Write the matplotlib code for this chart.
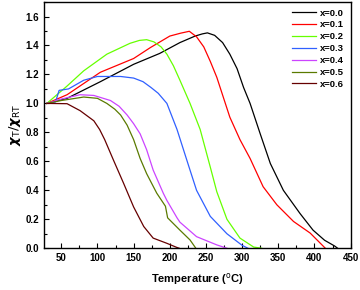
import numpy as np
import matplotlib
matplotlib.use('Agg')
import matplotlib.pyplot as plt
from matplotlib.ticker import MultipleLocator

# Temperatura (°C) y chi_T/chi_RT
t0 = [30, 58, 104, 150, 186, 214, 235, 245, 252, 262, 273, 283, 293, 302, 311, 325, 339, 357, 380, 398, 414, 428, 432]
c0 = [1.0, 1.035, 1.15, 1.27, 1.345, 1.42, 1.465, 1.48, 1.487, 1.47, 1.42, 1.34, 1.24, 1.11, 1.0, 0.79, 0.585, 0.40, 0.24, 0.125, 0.055, 0.015, 0.0]

t1 = [30, 58, 104, 150, 173, 200, 215, 227, 237, 247, 256, 265, 283, 297, 311, 329, 348, 371, 394, 410, 415]
c1 = [1.0, 1.06, 1.215, 1.31, 1.385, 1.465, 1.485, 1.498, 1.46, 1.39, 1.29, 1.18, 0.905, 0.75, 0.62, 0.425, 0.30, 0.185, 0.105, 0.025, 0.0]

t2 = [30, 58, 81, 113, 145, 158, 168, 178, 188, 196, 205, 214, 228, 242, 256, 265, 279, 297, 316, 327]
c2 = [1.0, 1.12, 1.225, 1.34, 1.415, 1.435, 1.44, 1.425, 1.39, 1.34, 1.26, 1.16, 1.0, 0.82, 0.56, 0.39, 0.2, 0.07, 0.008, 0.0]

t3 = [30, 42, 47, 60, 81, 100, 132, 150, 163, 174, 184, 196, 210, 226, 237, 256, 279, 300, 308]
c3 = [1.0, 1.01, 1.09, 1.10, 1.16, 1.186, 1.186, 1.175, 1.15, 1.11, 1.07, 1.0, 0.82, 0.57, 0.40, 0.22, 0.10, 0.02, 0.0]

t4 = [30, 50, 76, 95, 118, 130, 141, 150, 159, 168, 177, 191, 196, 210, 214, 237, 265, 279]
c4 = [1.0, 1.03, 1.06, 1.055, 1.02, 0.98, 0.92, 0.86, 0.79, 0.68, 0.54, 0.38, 0.33, 0.21, 0.18, 0.08, 0.023, 0.0]

t5 = [30, 50, 81, 100, 113, 124, 132, 141, 150, 159, 168, 182, 194, 197, 214, 228, 236]
c5 = [1.0, 1.02, 1.044, 1.035, 1.0, 0.96, 0.92, 0.85, 0.75, 0.62, 0.515, 0.38, 0.29, 0.21, 0.125, 0.057, 0.0]

t6 = [30, 58, 76, 95, 103, 110, 122, 136, 150, 164, 177, 196, 209, 213]
c6 = [1.0, 0.998, 0.95, 0.88, 0.82, 0.75, 0.61, 0.45, 0.285, 0.15, 0.07, 0.034, 0.007, 0.0]

etiquetas = ['x=0.0', 'x=0.1', 'x=0.2', 'x=0.3', 'x=0.4', 'x=0.5', 'x=0.6']
colores = ['#000000', '#FF0000', '#66FF00', '#3060FF', '#CC44FF', '#5A7A00', '#660000']

fig = plt.figure(figsize=(3.6, 2.9), dpi=100)
ax = fig.add_axes([0.122, 0.144, 0.852, 0.849])

series = [(t0, c0), (t1, c1), (t2, c2), (t3, c3), (t4, c4), (t5, c5), (t6, c6)]
for (t, c), lab, col in zip(series, etiquetas, colores):
    ax.plot(t, c, color=col, lw=0.9, label=lab)

ax.set_xlim(26, 450)
ax.set_ylim(0, 1.7)
ax.xaxis.set_major_locator(MultipleLocator(50))
ax.xaxis.set_minor_locator(MultipleLocator(25))
ax.yaxis.set_major_locator(MultipleLocator(0.2))
ax.yaxis.set_minor_locator(MultipleLocator(0.1))
ax.tick_params(which='both', direction='in', top=False, right=False,
               labelsize=7, width=0.8)
ax.tick_params(which='major', length=3.5)
ax.tick_params(which='minor', length=2)
for lab in ax.get_xticklabels() + ax.get_yticklabels():
    lab.set_fontweight('bold')
    lab.set_family('Liberation Sans')
for s in ax.spines.values():
    s.set_linewidth(1.0)

ax.set_xlabel('Temperature ($^{\\rm o}$C)', fontsize=8, fontweight='bold',
              family='Liberation Sans', labelpad=6)
ax.set_ylabel('$\\boldsymbol{\\chi}_{\\rm T}/\\boldsymbol{\\chi}_{\\rm RT}$', fontsize=9.5, labelpad=2)

leg = ax.legend(loc='upper right', frameon=False, handlelength=2.6,
                labelspacing=0.3, handletextpad=0.4, borderaxespad=0.3,
                prop={'weight': 'bold', 'family': 'Liberation Sans', 'size': 6.8})

fig.savefig('out.png', dpi=100)
